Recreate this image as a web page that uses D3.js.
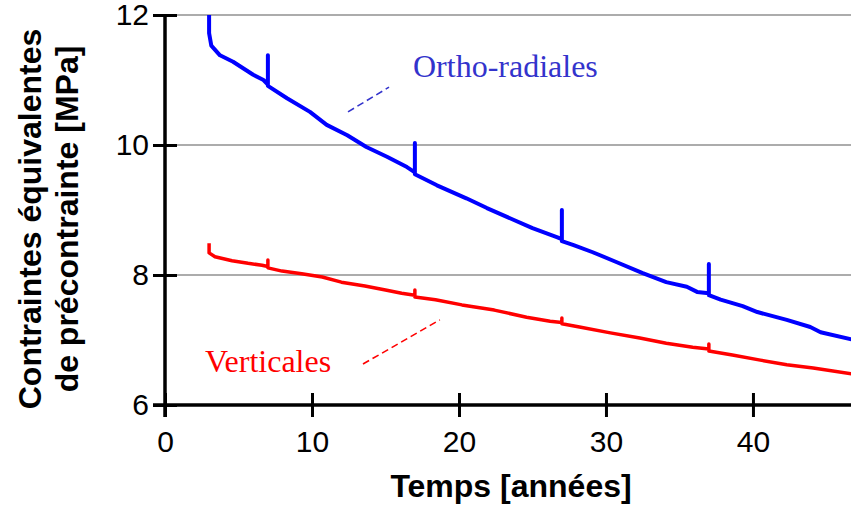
<!DOCTYPE html>
<html><head><meta charset="utf-8">
<script src="https://cdn.jsdelivr.net/npm/d3@7"></script>
<style>body{margin:0;background:#fff}svg{display:block}</style>
</head><body>
<script>
// ---- data ----
const xTicks = [0, 10, 20, 30, 40];
const yTicks = [6, 8, 10, 12];
const xDomain = [0, 46.67];
const yDomain = [6, 12];

// Ortho-radiales (blue)
const orthoT = [3.0,3.0,3.15,3.74,4.63,6.0,6.7,7.0,7.0,7.0,8.3,9.86,11.0,12.4,13.7,15.1,16.46,17.0,17.0,17.0,18.5,20.5,21.9,23.7,25.0,26.7,27.0,27.0,27.0,27.8,29.1,30.7,32.5,34.1,35.5,36.2,37.0,37.0,37.0,37.8,39.3,40.3,42.3,43.9,44.6,46.7];
const orthoV = [12.0,11.72,11.53,11.38,11.28,11.08,11.0,10.93,11.38,10.91,10.72,10.51,10.31,10.15,9.97,9.82,9.66,9.58,10.03,9.55,9.38,9.18,9.03,8.85,8.72,8.58,8.55,9.0,8.52,8.46,8.35,8.20,8.03,7.89,7.82,7.74,7.72,8.17,7.69,7.62,7.52,7.43,7.31,7.2,7.12,7.01];

// Verticales (red)
const vertT = [3.0,3.0,3.4,4.56,5.65,6.6,7.0,7.0,7.0,7.96,9.3,10.7,12.0,13.6,15.0,16.1,17.0,17.0,17.0,18.4,20.2,22.4,24.6,26.2,27.0,27.0,27.0,28.2,30.3,32.3,34.1,35.9,37.0,37.0,37.0,38.6,40.5,42.3,44.1,46.7];
const vertV = [8.49,8.34,8.28,8.22,8.18,8.15,8.13,8.23,8.11,8.06,8.02,7.97,7.89,7.83,7.77,7.72,7.69,7.77,7.66,7.62,7.54,7.46,7.35,7.29,7.27,7.34,7.25,7.2,7.11,7.03,6.95,6.89,6.86,6.94,6.83,6.77,6.69,6.62,6.57,6.48];

// annotations: label, label anchor (t,v), leader line ends (t,v)
const labels = ["Ortho-radiales", "Verticales"];
const labelT = [16.87, 2.72];
const labelV = [11.05, 6.51];
const leaderT = [[12.45, 15.24], [13.47, 18.7]];
const leaderV = [[10.51, 10.89], [6.63, 7.31]];

const xTitle = "Temps [années]";
const yTitle = ["Contraintes équivalentes", "de précontrainte [MPa]"];

// ---- drawing ----
const W = 851, H = 510;
const svg = d3.select("body").append("svg").attr("width", W).attr("height", H);
const x = d3.scaleLinear().domain(xDomain).range([165, 851]);
const y = d3.scaleLinear().domain(yDomain).range([405, 15]);

const sans = "'Liberation Sans', Arial, sans-serif";
const serif = "'Liberation Serif', 'Times New Roman', serif";

// gridlines
svg.append("g").selectAll("line").data(yTicks.filter(d => d !== 6)).join("line")
  .attr("x1", x(xDomain[0])).attr("x2", x(xDomain[1]))
  .attr("y1", d => y(d)).attr("y2", d => y(d))
  .attr("stroke", "#5a5a5a").attr("stroke-width", 1.1);

// series
const line = d3.line().x(d => x(d[0])).y(d => y(d[1]));
svg.append("clipPath").attr("id", "c").append("rect")
  .attr("x", 165).attr("y", 0).attr("width", 851 - 165).attr("height", 420);
svg.append("path").datum(orthoT.map((t, i) => [t, orthoV[i]]))
  .attr("d", line).attr("fill", "none").attr("stroke", "#0000ff")
  .attr("stroke-width", 4).attr("stroke-linejoin", "round").attr("clip-path", "url(#c)");
svg.append("path").datum(vertT.map((t, i) => [t, vertV[i]]))
  .attr("d", line).attr("fill", "none").attr("stroke", "#ff0000")
  .attr("stroke-width", 3.5).attr("stroke-linejoin", "round").attr("clip-path", "url(#c)");

// axes
const yAxis = svg.append("g").attr("transform", `translate(${x(0)},0)`)
  .call(d3.axisLeft(y).tickValues(yTicks).tickSize(12).tickSizeOuter(0).tickPadding(5).tickFormat(d3.format("d")));
yAxis.selectAll(".tick line").attr("x1", 12);
const xAxis = svg.append("g").attr("transform", `translate(0,${y(6)})`)
  .call(d3.axisBottom(x).tickValues(xTicks).tickSize(12).tickSizeOuter(0).tickPadding(14).tickFormat(d3.format("d")));
xAxis.selectAll(".tick line").attr("y1", -12);
[yAxis, xAxis].forEach(g => {
  g.selectAll("line").attr("stroke", "#000").attr("stroke-width", 3);
  g.select(".domain").attr("stroke", "#000").attr("stroke-width", 3.5);
  g.selectAll("text").attr("font-family", sans).attr("font-size", 30).attr("fill", "#000");
});
xAxis.select(".domain").attr("d", `M${x(0) - 12},0H${x(xDomain[1])}`);
yAxis.select(".domain").attr("d", `M0,${y(12)}V${y(6) + 12}`);
yAxis.selectAll(".tick text").attr("x", -16);

// titles
svg.append("text").attr("x", 511).attr("y", 497)
  .attr("text-anchor", "middle").attr("font-family", sans).attr("font-weight", "bold")
  .attr("font-size", 32).text(xTitle);
yTitle.forEach((s, i) => {
  svg.append("text").attr("transform", `translate(${i === 0 ? 41 : 78},219) rotate(-90)`)
    .attr("text-anchor", "middle").attr("font-family", sans).attr("font-weight", "bold")
    .attr("font-size", 32).text(s);
});

// annotations
const colors = ["#3333cc", "#ff0000"];
labels.forEach((s, i) => {
  svg.append("text").attr("x", x(labelT[i])).attr("y", y(labelV[i]))
    .attr("font-family", serif).attr("font-size", 32).attr("fill", colors[i]).text(s);
  svg.append("line")
    .attr("x1", x(leaderT[i][0])).attr("y1", y(leaderV[i][0]))
    .attr("x2", x(leaderT[i][1])).attr("y2", y(leaderV[i][1]))
    .attr("stroke", colors[i]).attr("stroke-width", 1.6).attr("stroke-dasharray", "7,4");
});
</script>
</body></html>
